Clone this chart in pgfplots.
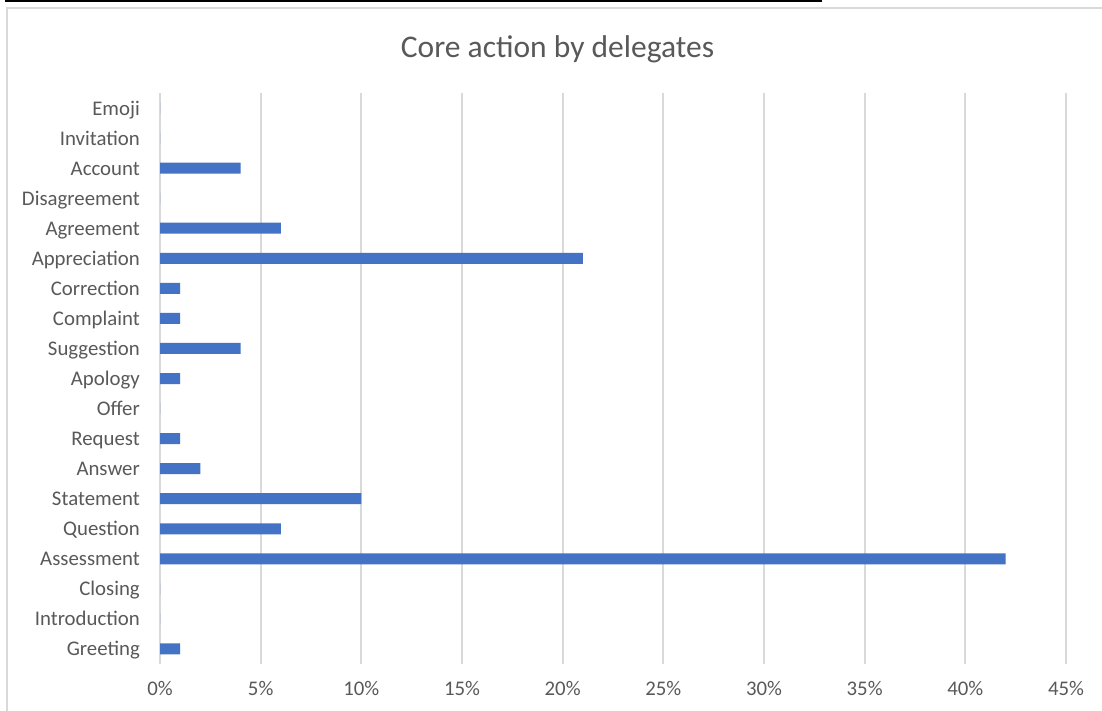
\documentclass[border=0pt]{standalone}
\usepackage{pgfplots}
\pgfplotsset{compat=1.18}
\usepackage{fontspec}
\setmainfont{Carlito}
\definecolor{barblue}{HTML}{4472C4}
\definecolor{gridgray}{HTML}{D9D9D9}
\definecolor{txtgray}{HTML}{595959}
\begin{document}
\begin{tikzpicture}
\path[use as bounding box] (0,0) rectangle (1102bp,-711bp);
\fill[white] (0,0) rectangle (1102bp,-711bp);
\draw[black, line width=1.6bp] (5bp,-0.8bp) -- (822bp,-0.8bp);
\draw[gridgray, line width=2bp] (7bp,-711bp) -- (7bp,-8bp) -- (1102bp,-8bp);
\node[txtgray, font=\fontsize{31.5bp}{36bp}\selectfont, anchor=base] at (557.5bp,-57bp) {Core action by delegates};
\begin{axis}[
  at={(160bp,-664bp)}, anchor=south west,
  scale only axis, width=906bp, height=571bp,
  xbar, bar width=11bp,
  xmin=0, xmax=45, ymin=-0.5, ymax=18.5,
  xtick={0,5,...,45},
  xticklabels={0\%,5\%,10\%,15\%,20\%,25\%,30\%,35\%,40\%,45\%},
  ytick={0,...,18},
  yticklabels={Greeting,Introduction,Closing,Assessment,Question,Statement,Answer,Request,Offer,Apology,Suggestion,Complaint,Correction,Appreciation,Agreement,Disagreement,Account,Invitation,Emoji},
  axis line style={draw=none},
  major tick length=0pt,
  xmajorgrids,
  grid style={gridgray, line width=1.8bp},
  yticklabel style={font=\fontsize{20.8bp}{24bp}\selectfont, text=txtgray, anchor=base east, inner sep=0pt, xshift=-20bp, yshift=-7bp},
  xticklabel style={font=\fontsize{20.8bp}{24bp}\selectfont, text=txtgray, anchor=north, inner sep=0pt, yshift=-17bp},
]
\addplot[fill=barblue, draw=none] coordinates {
(1,0) (0,1) (0,2) (42,3) (6,4) (10,5) (2,6) (1,7) (0,8) (1,9) (4,10) (1,11) (1,12) (21,13) (6,14) (0,15) (4,16) (0,17) (0,18)
};
\end{axis}
\end{tikzpicture}
\end{document}
